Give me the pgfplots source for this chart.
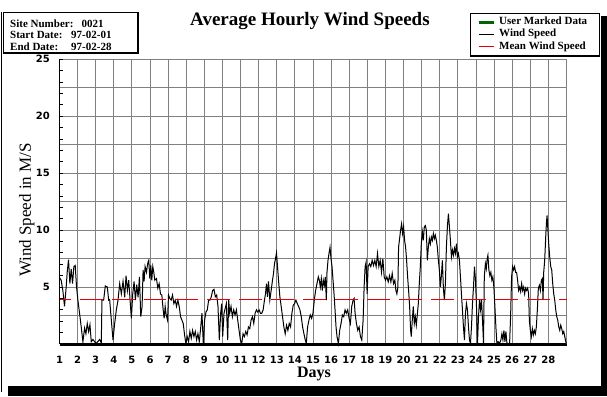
\documentclass[border=0pt]{standalone}
\usepackage{fontspec}
\setmainfont{Liberation Serif}
\newfontfamily\tickfont{DejaVu Sans}
\usepackage{pgfplots}
\usepackage{pgfplotstable}
\pgfplotsset{compat=1.18}
\definecolor{gridgray}{RGB}{128,128,128}
\definecolor{meanred}{RGB}{230,0,0}
\definecolor{markgreen}{RGB}{0,100,0}

\pgfplotstableread{
day speed
1.000 5.84
1.092 5.6
1.185 4.7
1.277 3.3
1.369 5.0
1.425 6.3
1.499 7.4
1.572 5.3
1.646 6.6
1.720 5.3
1.794 6.8
1.868 6.9
1.942 5.0
2.016 3.85
2.108 2.7
2.200 1.5
2.293 0.2
2.385 1.4
2.459 0.9
2.533 1.8
2.607 1.1
2.681 1.7
2.754 0.2
2.847 0.4
2.939 0.2
3.031 0.05
3.216 0.4
3.308 0.1
3.345 3.85
3.438 3.85
3.530 5.1
3.641 5.0
3.715 3.85
3.770 3.9
3.862 2.1
3.955 0.35
4.047 1.8
4.139 3.0
4.232 3.85
4.324 5.3
4.416 4.4
4.509 5.5
4.601 4.1
4.675 6.0
4.749 4.7
4.823 5.6
4.897 3.85
4.970 2.25
5.044 4.4
5.118 5.5
5.192 3.85
5.266 5.2
5.340 4.1
5.414 5.9
5.488 2.4
5.561 3.3
5.617 6.5
5.672 5.5
5.727 6.8
5.801 6.3
5.875 7.1
5.931 7.35
5.986 5.75
6.041 6.9
6.097 5.6
6.152 6.8
6.208 6.3
6.263 5.6
6.355 5.75
6.429 4.9
6.503 5.3
6.577 4.4
6.651 4.3
6.725 3.0
6.780 2.25
6.835 3.3
6.891 2.55
6.965 2.1
7.020 4.3
7.094 4.0
7.168 3.85
7.242 4.3
7.316 3.55
7.390 3.85
7.463 3.3
7.537 3.85
7.611 3.3
7.685 2.4
7.759 2.1
7.833 1.8
7.907 0.8
7.980 0.05
8.054 0.65
8.128 0.2
8.202 1.1
8.276 0.5
8.350 1.2
8.424 0.65
8.498 1.1
8.571 0.35
8.645 0.9
8.719 0.2
8.793 1.35
8.867 2.7
8.941 0.05
9.015 2.1
9.089 2.8
9.162 3.0
9.236 3.85
9.310 3.85
9.384 4.15
9.458 4.7
9.532 4.8
9.606 4.15
9.680 4.3
9.753 3.3
9.827 0.35
9.901 2.7
9.956 3.55
10.012 0.65
10.086 2.7
10.215 3.55
10.289 0.35
10.344 3.85
10.400 2.7
10.473 3.3
10.547 2.4
10.621 3.0
10.695 2.55
10.769 3.0
10.843 2.1
10.917 1.2
10.990 0.35
11.064 0.05
11.138 0.9
11.212 0.65
11.286 1.1
11.360 0.8
11.434 1.5
11.508 1.35
11.581 2.1
11.655 2.4
11.729 1.8
11.803 2.7
11.877 3.0
11.951 2.8
12.025 3.0
12.099 2.7
12.172 2.7
12.246 3.0
12.320 3.85
12.376 4.4
12.431 5.3
12.486 4.15
12.542 5.5
12.616 3.85
12.689 4.7
12.763 5.6
12.819 6.2
12.874 7.05
12.930 7.5
12.985 8.0
13.040 6.8
13.096 5.6
13.170 4.15
13.243 3.3
13.317 2.4
13.391 1.5
13.465 0.9
13.539 1.65
13.613 1.2
13.687 1.8
13.761 1.5
13.834 2.7
13.908 3.4
13.982 3.55
14.056 3.85
14.130 3.55
14.204 3.3
14.278 3.0
14.352 2.4
14.425 1.5
14.499 0.9
14.573 0.35
14.629 0.05
14.702 1.5
14.776 2.1
14.850 2.55
14.924 2.25
14.998 2.7
15.072 3.85
15.145 4.7
15.219 5.3
15.293 5.9
15.349 5.6
15.404 5.0
15.459 5.75
15.515 4.7
15.570 5.6
15.626 5.15
15.681 5.9
15.736 3.85
15.773 6.3
15.829 7.35
15.884 7.95
15.940 8.5
15.995 7.5
16.050 6.8
16.106 5.6
16.161 4.4
16.217 3.0
16.272 1.5
16.327 0.65
16.401 0.05
16.475 1.2
16.549 1.8
16.623 2.55
16.697 2.4
16.771 3.0
16.844 2.7
16.918 3.0
16.992 2.25
17.066 1.8
17.140 3.3
17.214 3.85
17.269 4.0
17.325 2.7
17.398 1.8
17.472 1.2
17.546 1.5
17.620 0.65
17.694 0.35
17.768 2.1
17.823 5.0
17.879 6.8
17.934 7.2
17.989 4.4
18.045 6.8
18.119 7.05
18.193 6.8
18.266 7.35
18.340 6.9
18.414 7.35
18.488 6.8
18.562 7.95
18.636 6.8
18.710 7.35
18.784 6.3
18.857 7.5
18.931 5.9
19.005 5.6
19.079 5.9
19.153 5.45
19.227 6.0
19.301 5.45
19.374 6.2
19.448 5.3
19.522 5.6
19.578 4.7
19.633 4.4
19.688 5.0
19.726 8.5
19.782 9.25
19.837 10.0
19.892 10.55
19.948 9.7
20.003 10.3
20.059 9.1
20.114 8.5
20.169 7.35
20.225 5.9
20.280 4.7
20.336 3.3
20.391 1.2
20.428 0.65
20.483 2.1
20.539 3.3
20.594 1.8
20.650 2.4
20.705 1.65
20.760 2.55
20.816 3.55
20.871 5.3
20.927 6.8
20.982 8.8
21.037 9.85
21.093 9.1
21.148 10.3
21.204 10.4
21.259 10.0
21.314 7.35
21.370 8.5
21.425 9.25
21.481 8.8
21.536 9.4
21.591 9.1
21.647 9.7
21.702 9.25
21.758 9.55
21.813 9.1
21.868 8.5
21.924 7.35
21.979 6.5
22.035 5.0
22.090 6.0
22.145 7.35
22.201 4.9
22.256 3.85
22.312 5.3
22.367 8.5
22.422 10.3
22.478 11.45
22.533 10.3
22.589 9.1
22.644 7.65
22.699 8.25
22.755 7.8
22.810 8.4
22.866 7.95
22.921 8.8
22.976 7.65
23.032 7.95
23.087 7.35
23.143 5.9
23.198 4.4
23.253 3.0
23.309 1.5
23.364 0.35
23.420 2.7
23.475 3.55
23.530 3.0
23.586 1.5
23.641 0.35
23.697 0.05
23.752 1.5
23.807 3.55
23.863 5.0
23.918 6.8
23.974 5.6
24.029 3.3
24.084 0.05
24.140 2.4
24.195 3.85
24.251 3.0
24.306 3.85
24.361 2.1
24.417 0.05
24.460 5.9
24.520 7.05
24.570 6.6
24.620 7.5
24.660 7.8
24.712 6.5
24.768 6.0
24.823 6.3
24.878 5.6
24.934 5.9
24.989 5.0
25.045 3.3
25.100 1.5
25.155 0.05
25.229 0.2
25.303 0.05
25.377 0.35
25.432 0.9
25.488 0.35
25.543 1.2
25.599 0.2
25.654 1.1
25.709 0.05
25.783 0.05
25.857 0.05
25.913 2.4
25.968 5.9
26.023 6.8
26.079 6.5
26.134 6.8
26.190 6.3
26.245 6.3
26.300 5.6
26.356 4.7
26.411 5.0
26.467 4.6
26.522 5.3
26.577 4.7
26.633 5.0
26.688 4.4
26.744 4.9
26.799 4.7
26.854 4.9
26.910 4.4
26.947 2.1
27.002 1.2
27.058 0.65
27.113 1.35
27.168 0.8
27.224 1.2
27.279 0.9
27.335 1.5
27.390 3.0
27.445 4.9
27.501 5.15
27.556 4.7
27.612 5.6
27.667 5.75
27.704 3.85
27.741 6.3
27.796 7.35
27.852 9.4
27.889 10.55
27.926 11.3
27.962 10.3
28.018 8.8
28.073 7.65
28.129 6.8
28.184 6.5
28.239 5.3
28.295 4.4
28.350 3.85
28.406 3.0
28.461 2.4
28.516 2.1
28.572 1.5
28.627 1.2
28.683 1.65
28.738 1.35
28.793 0.9
28.849 1.1
28.904 0.65
28.960 0.2
29.000 0.05
}\windtable

\pgfplotstableread{
day mean
1.000 3.9
1.608 3.9
1.700 nan
2.105 3.9
3.375 3.9
3.500 nan
3.872 3.9
5.142 3.9
5.300 nan
5.639 3.9
6.909 3.9
7.000 nan
7.406 3.9
8.676 3.9
8.800 nan
9.173 3.9
10.443 3.9
10.600 nan
10.940 3.9
12.210 3.9
12.400 nan
12.707 3.9
13.978 3.9
14.100 nan
14.475 3.9
15.745 3.9
15.900 nan
16.242 3.9
17.512 3.9
17.700 nan
18.009 3.9
19.279 3.9
19.400 nan
19.776 3.9
21.046 3.9
21.200 nan
21.544 3.9
22.814 3.9
23.000 nan
23.311 3.9
24.581 3.9
24.700 nan
25.078 3.9
26.348 3.9
26.500 nan
26.845 3.9
28.115 3.9
28.300 nan
28.612 3.9
29.000 3.9
}\meantable

\begin{document}
\begin{tikzpicture}[x=1pt,y=1pt]
\useasboundingbox (0,0) rectangle (607,396);
\fill[white] (0,0) rectangle (607,396);
% frame shadow
\fill[black] (8,0) rectangle (607,10);
\fill[black] (601,0) rectangle (607,380);
\draw[black, line width=1pt] (1,4) -- (1,384);
% info box
\draw[black, line width=1.2pt] (3.5,343) rectangle (138,383.3);
\begin{scope}[every node/.style={anchor=base west, inner sep=0pt, font=\bfseries\fontsize{11}{11}\selectfont}]
\node at (10,368.7) {Site Number:};
\node at (81.5,368.7) {0021};
\node at (10,357) {Start Date:};
\node at (71,357) {97-02-01};
\node at (10,345.3) {End Date:};
\node at (71,345.3) {97-02-28};
\end{scope}
% legend box
\draw[black, line width=1.2pt] (470.7,340) rectangle (599.3,382.7);

\begin{axis}[
  at={(59.5pt,52pt)}, anchor=south west,
  scale only axis, width=507pt, height=284.7pt,
  xmin=1, xmax=29, ymin=0, ymax=25,
  clip=false,
  axis x line*=bottom, axis y line*=left,
  x axis line style={line width=3pt, black},
  y axis line style={line width=1pt, black},
  xtick={1,...,28},
  extra x ticks={29}, extra x tick labels={},
  ytick={0,5,...,25}, yticklabels={,5,10,15,20,25},
  extra y ticks={2.5,7.5,12.5,17.5,22.5}, extra y tick labels={},
  minor y tick num=4,
  grid=major,
  major grid style={gridgray, line width=0.9pt},
  extra x tick style={grid=major, major tick length=0pt},
  extra y tick style={grid=major, major tick length=0pt},
  xtick style={draw=none},
  ytick style={black, line width=0.8pt},
  major tick length=3pt, minor tick length=3pt, tick align=inside,
  unbounded coords=jump,
  /pgf/number format/assume math mode=true,
  xticklabel style={font=\tickfont\bfseries\fontsize{10}{10}\selectfont, anchor=north, inner sep=0pt, yshift=-12pt},
  yticklabel style={font=\tickfont\bfseries\fontsize{10}{10}\selectfont, anchor=east, inner sep=0pt, xshift=-9.5pt},
  title={Average Hourly Wind Speeds},
  title style={at={(axis description cs:0.494,1.113)}, anchor=center, inner sep=0pt, font=\bfseries\fontsize{19}{19}\selectfont},
  xlabel={Days},
  xlabel style={at={(axis description cs:0.502,-0.104)}, anchor=center, inner sep=0pt, font=\bfseries\fontsize{16}{16}\selectfont},
  ylabel={Wind Speed in M/S},
  ylabel style={at={(axis description cs:-0.0647,0.471)}, anchor=center, inner sep=0pt, font=\fontsize{17}{17}\selectfont},
  legend style={at={(axis description cs:0.8235,1.151)}, anchor=north west, draw=none, fill=none,
    inner sep=0pt, row sep=1.3pt, column sep=4pt,
    font=\bfseries\fontsize{11}{11}\selectfont,
    nodes={inner sep=0pt, text height=8pt, text depth=3pt}},
  legend cell align=left,
  legend image code/.code={\draw[#1] (0pt,0pt) -- (15pt,0pt);},
]
\addlegendimage{markgreen, line width=3pt}
\addlegendentry{User Marked Data}
\addplot[black, line width=1pt] table[x=day, y=speed] {\windtable};
\addlegendentry{Wind Speed}
\addplot[color=meanred, line width=1.3pt] table[x=day, y=mean] {\meantable};
\addlegendentry{Mean Wind Speed}
\end{axis}
\end{tikzpicture}
\end{document}
